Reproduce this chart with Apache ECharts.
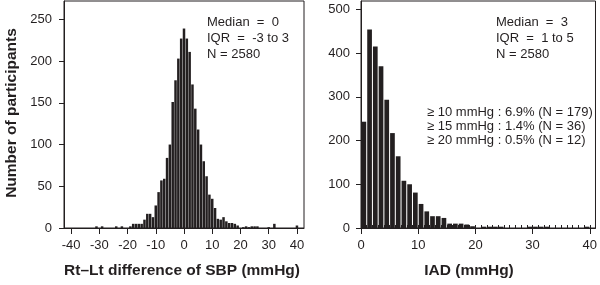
<!DOCTYPE html>
<html>
<head>
<meta charset="utf-8">
<title>SBP arm difference histograms</title>
<script src="https://cdn.jsdelivr.net/npm/echarts@6/dist/echarts.min.js"></script>
<style>
  html, body { margin: 0; padding: 0; background: #fff; }
  #chart { width: 600px; height: 285px; }
</style>
</head>
<body>
<div id="chart"></div>
<script>
// left panel: Rt-Lt SBP difference, 1 mmHg bins (bin centre, mmHg)
const sbpDiff = [-31, -29, -24, -22, -19, -18, -17, -16, -15, -14, -13, -12, -11, -10, -9, -8, -7, -6, -5, -4, -3, -2, -1,
  0, 1, 2, 3, 4, 5, 6, 7, 8, 9, 10, 11, 12, 13, 14, 15, 16, 17, 18, 19, 21, 22, 23, 24, 25, 26, 30, 32, 40];
const sbpCount = [2, 2, 2, 2, 2, 5, 5, 5, 5, 10, 17, 17, 13, 27, 43, 57, 59, 84, 100, 151, 177, 203, 227,
  239, 227, 211, 172, 143, 118, 100, 80, 62, 40, 35, 24, 11, 10, 13, 8, 6, 6, 5, 3, 1, 2, 1, 2, 2, 2, 1, 5, 3];

// right panel: inter-arm difference, 1 mmHg bins (bin start, mmHg)
const iadBin = [0, 1, 2, 3, 4, 5, 6, 7, 8, 9, 10, 11, 12, 13, 14, 15, 16, 17, 18, 19,
  21, 22, 23, 24, 29, 30, 31, 32, 39];
const iadCount = [243, 454, 415, 370, 293, 217, 164, 108, 100, 81, 55, 38, 27, 27, 23, 10, 10, 10, 8, 4,
  3, 3, 3, 3, 3, 3, 3, 3, 3];

const sbpTicks = [-40, -30, -20, -10, 0, 10, 20, 30, 40];
const sbpCountTicks = [0, 50, 100, 150, 200, 250];
const iadTicks = [0, 10, 20, 30, 40];
const iadCountTicks = [0, 100, 200, 300, 400, 500];

const sbpNotes = ['Median  =  0', 'IQR  =  -3 to 3', 'N = 2580'];
const iadNotes = ['Median  =  3', 'IQR  =  1 to 5', 'N = 2580'];
const iadShares = ['≥ 10 mmHg : 6.9% (N = 179)', '≥ 15 mmHg : 1.4% (N = 36)', '≥ 20 mmHg : 0.5% (N = 12)'];

const INK = '#231f20';
const FONT = "'Liberation Sans', Arial, sans-serif";

const chart = echarts.init(document.getElementById('chart'));

const axisLine = { show: true, onZero: false, lineStyle: { color: INK, width: 1 } };
const tickLabel = { color: INK, fontSize: 13, fontFamily: FONT };

function noteLines(lines, x, y0, step) {
  return lines.map((t, i) => ({
    type: 'text',
    x: x,
    y: y0 + i * step,
    style: { text: t, fill: INK, font: '13px ' + FONT, textAlign: 'left', textVerticalAlign: 'middle' },
  }));
}

const option = {
  animation: false,
  grid: [
    { left: 64, right: 296, top: 1, bottom: 57, show: true, borderColor: INK, borderWidth: 1 },
    { left: 361, right: 2, top: 1, bottom: 57, show: true, borderColor: INK, borderWidth: 1 },
  ],
  xAxis: [
    {
      type: 'value', gridIndex: 0, min: -42.5, max: 42.5,
      axisLine,
      axisTick: { show: true, length: 6, customValues: sbpTicks, lineStyle: { color: INK } },
      axisLabel: { ...tickLabel, margin: 11, customValues: sbpTicks },
      splitLine: { show: false },
    },
    {
      type: 'value', gridIndex: 1, min: 0, max: 41,
      axisLine,
      axisTick: { show: true, length: 6, customValues: iadTicks, lineStyle: { color: INK } },
      axisLabel: { ...tickLabel, margin: 11, customValues: iadTicks },
      splitLine: { show: false },
    },
    {
      // minor 1 mmHg ticks under the IAD axis
      type: 'value', gridIndex: 1, min: 0, max: 41,
      axisLine: { show: false },
      axisTick: { show: true, length: 3, customValues: Array.from({ length: 42 }, (_, i) => i), lineStyle: { color: INK } },
      axisLabel: { show: false },
      splitLine: { show: false },
    },
  ],
  yAxis: [
    {
      type: 'value', gridIndex: 0, min: 0, max: 272,
      axisLine,
      axisTick: { show: true, length: 5, customValues: sbpCountTicks, lineStyle: { color: INK } },
      axisLabel: { ...tickLabel, margin: 12, customValues: sbpCountTicks },
      splitLine: { show: false },
    },
    {
      type: 'value', gridIndex: 1, min: 0, max: 519,
      axisLine,
      axisTick: { show: true, length: 5, customValues: iadCountTicks, lineStyle: { color: INK } },
      axisLabel: { ...tickLabel, margin: 11, customValues: iadCountTicks },
      splitLine: { show: false },
    },
  ],
  series: [
    {
      type: 'bar', xAxisIndex: 0, yAxisIndex: 0,
      data: sbpDiff.map((d, i) => [d, sbpCount[i]]),
      barWidth: 2.5,
      itemStyle: { color: INK },
    },
    {
      type: 'bar', xAxisIndex: 1, yAxisIndex: 1,
      data: iadBin.map((b, i) => [b + 0.5, iadCount[i]]),
      barWidth: 4.7,
      itemStyle: { color: INK },
    },
  ],
  graphic: [
    ...noteLines(sbpNotes, 207, 22, 16),
    ...noteLines(iadNotes, 496, 22, 16),
    ...noteLines(iadShares, 427, 112, 14.2),
    {
      type: 'text', x: 12, y: 113, rotation: Math.PI / 2,
      style: { text: 'Number of participants', fill: INK, font: 'bold 15.5px ' + FONT, textAlign: 'center', textVerticalAlign: 'middle' },
    },
    {
      type: 'text', x: 182, y: 271,
      style: { text: 'Rt–Lt difference of SBP (mmHg)', fill: INK, font: 'bold 15.5px ' + FONT, textAlign: 'center', textVerticalAlign: 'middle' },
    },
    {
      type: 'text', x: 469, y: 271,
      style: { text: 'IAD (mmHg)', fill: INK, font: 'bold 15.5px ' + FONT, textAlign: 'center', textVerticalAlign: 'middle' },
    },
  ],
};

chart.setOption(option);
window.addEventListener('resize', () => chart.resize());
</script>
</body>
</html>
